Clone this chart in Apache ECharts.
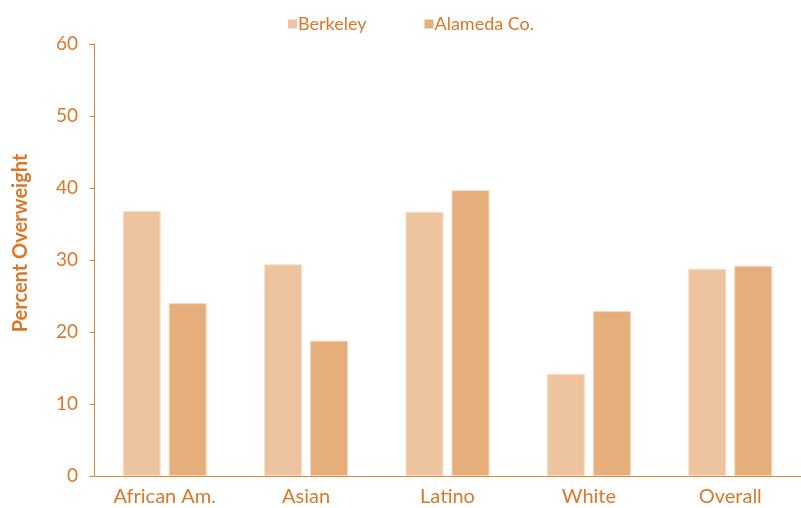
<!DOCTYPE html>
<html><head><meta charset="utf-8">
<script src="https://cdn.jsdelivr.net/npm/echarts@6/dist/echarts.min.js"></script>
<style>html,body{margin:0;padding:0;background:#fff}#c{width:801px;height:508px}</style>
</head><body><div id="c"></div>
<script>
const categories = ['African Am.', 'Asian', 'Latino', 'White', 'Overall'];
const berkeley = [36.8, 29.4, 36.7, 14.2, 28.8];
const alameda = [24.0, 18.8, 39.7, 22.9, 29.2];
const seriesNames = ['Berkeley', 'Alameda Co.'];
const yAxisTitle = 'Percent Overweight';
const txt = '#D9782A';
const chart = echarts.init(document.getElementById('c'));
chart.setOption({
  animation: false,
  textStyle: { fontFamily: 'Lato' },
  legend: {
    top: 10, left: 283, itemGap: 58, itemWidth: 9, itemHeight: 9,
    icon: 'rect',
    itemStyle: { borderWidth: 0 },
    textStyle: { color: txt, fontSize: 18, fontFamily: 'Lato', padding: [0, 0, 0, -4] },
    data: seriesNames
  },
  grid: { left: 94, right: 0, top: 44, bottom: 32 },
  graphic: [{
    type: 'text', x: 21, y: 243, rotation: Math.PI / 2,
    style: { text: yAxisTitle, fill: txt, font: 'bold 20px Lato', align: 'center', verticalAlign: 'middle' }
  }],
  xAxis: {
    type: 'category', data: categories,
    axisLine: { lineStyle: { color: '#D98A3A', width: 1 } },
    axisTick: { show: false },
    axisLabel: { color: txt, fontSize: 20, margin: 11 }
  },
  yAxis: {
    type: 'value', min: 0, max: 60, interval: 10,
    axisLine: { show: true, lineStyle: { color: '#D98A3A' } },
    axisTick: { show: true, length: 5, lineStyle: { color: '#D98A3A' } },
    splitLine: { show: false },
    axisLabel: { color: txt, fontSize: 19, margin: 16 }
  },
  series: [
    { name: seriesNames[0], type: 'bar', data: berkeley, barGap: '21%', barCategoryGap: '40.6%',
      itemStyle: { color: '#EDC49D', borderColor: '#F6E0CA', borderWidth: 1 } },
    { name: seriesNames[1], type: 'bar', data: alameda,
      itemStyle: { color: '#E5AE7B', borderColor: '#F3D7BC', borderWidth: 1 } }
  ]
});
</script></body></html>
